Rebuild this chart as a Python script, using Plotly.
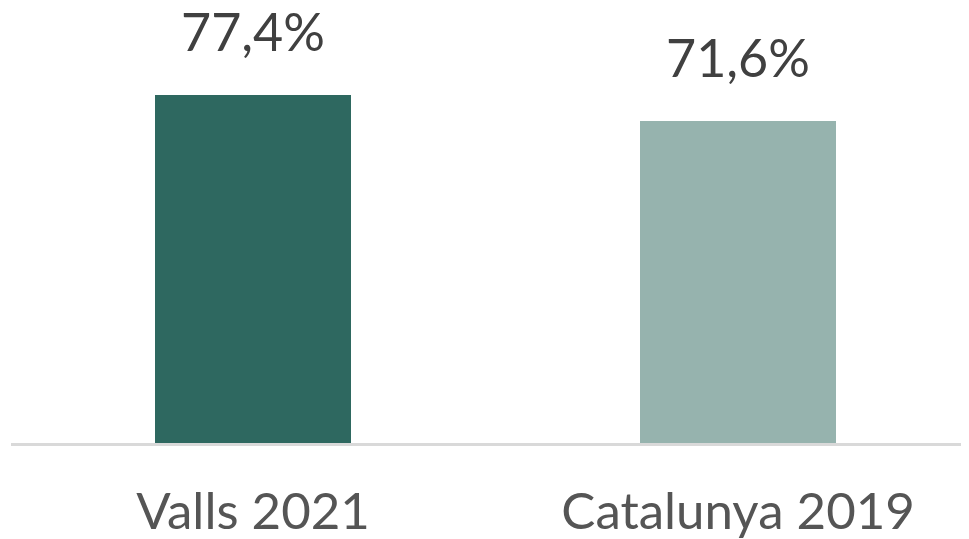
import plotly.graph_objects as go

categories = ["Valls 2021", "Catalunya 2019"]
values = [77.4, 71.6]
value_labels = ["77,4%", "71,6%"]
bar_colors = ["#2e6860", "#96b3ae"]

fig = go.Figure()

fig.add_trace(
    go.Bar(
        x=categories,
        y=values,
        width=0.404,
        marker=dict(color=bar_colors, line=dict(width=0)),
        hoverinfo="skip",
    )
)

# value labels above each bar
for cat, val, lab in zip(categories, values, value_labels):
    fig.add_annotation(
        x=cat,
        y=val,
        text=lab,
        showarrow=False,
        yanchor="bottom",
        yshift=31,
        font=dict(family="Lato", size=52, color="#404040"),
    )

# page body has an 8px margin, so the figure is a bit smaller than the window
fig.update_layout(
    width=961,
    height=531,
    margin=dict(l=3, r=0, t=0, b=96),
    plot_bgcolor="white",
    paper_bgcolor="white",
    showlegend=False,
    bargap=0,
)

fig.update_xaxes(
    range=[-0.499, 1.476],
    automargin=False,
    showline=True,
    linecolor="#d9d9d9",
    linewidth=3,
    showgrid=False,
    ticks="",
    ticklabelstandoff=22,
    tickfont=dict(family="Lato", size=51, color="#555555"),
)

fig.update_yaxes(
    range=[0, 96.75],
    automargin=False,
    visible=False,
    showgrid=False,
    zeroline=False,
)

fig.write_html("out.html")
